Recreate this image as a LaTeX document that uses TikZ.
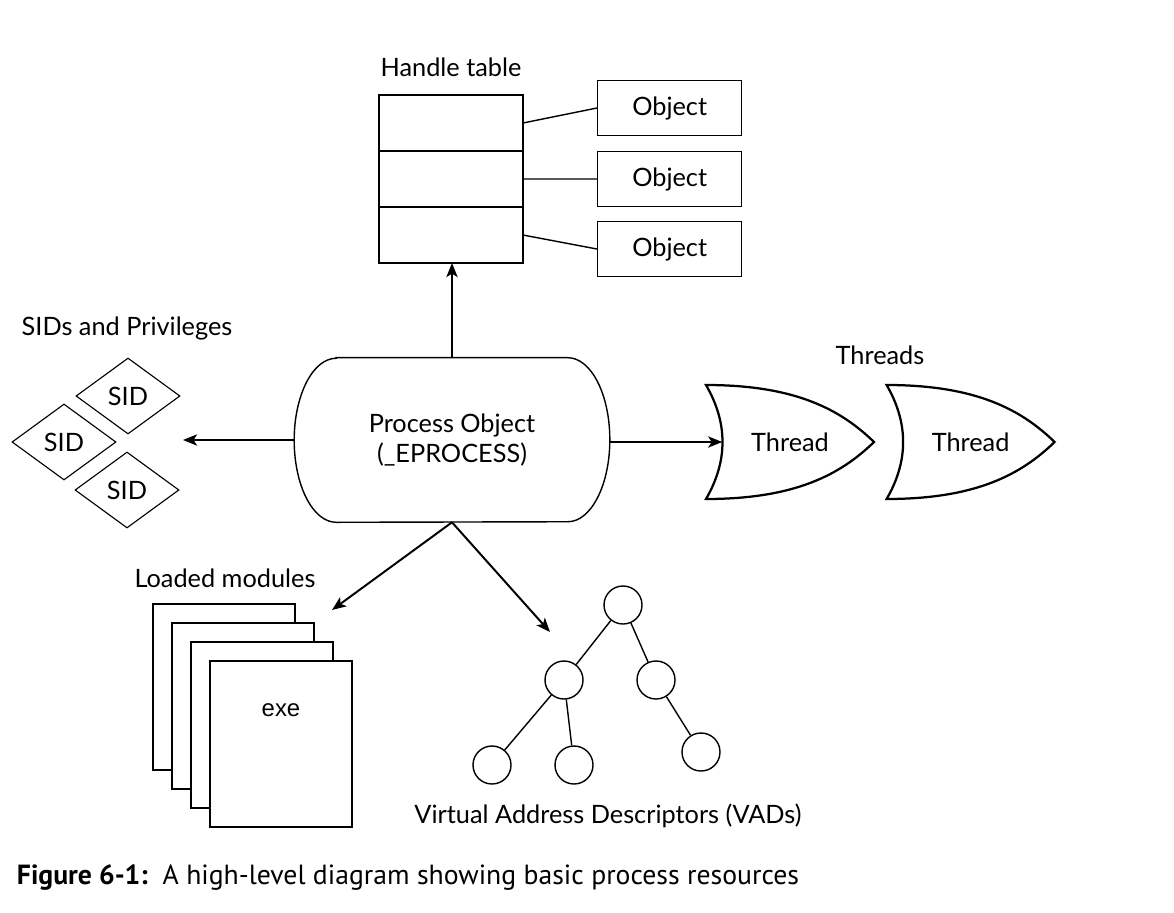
\documentclass[tikz,border=0pt]{standalone}
\usepackage{fontspec}
\setmainfont{Lato}
\newfontfamily\capfont{PT Sans}
\newfontfamily\arialfont{Liberation Sans}
\usetikzlibrary{positioning, arrows.meta, shapes.geometric}
\tikzset{
	cell/.style={
		rectangle,
		draw=black, line width=1pt,
		minimum width=3.6cm, minimum height=1.4cm,
		inner sep=0pt, outer sep=0pt,
	},
	object/.style={
		rectangle,
		draw=black, line width=0.9pt,
		minimum width=3.6cm, minimum height=1.375cm,
		inner sep=0pt,
	},
	sid/.style={
		diamond, aspect=1.4,
		draw=black, line width=0.8pt,
		minimum width=2.6cm, minimum height=1.9cm,
		inner sep=0pt,
	},
	page/.style={
		rectangle,
		draw=black, fill=white, line width=1pt,
		minimum width=3.55cm, minimum height=4.15cm,
		inner sep=0pt,
	},
	vad/.style={
		circle,
		draw=black, line width=1pt,
		minimum size=0.95cm, inner sep=0pt,
	},
	process/.style={
		rectangle, align=center,
		minimum width=7.875cm, minimum height=4.1cm,
		inner sep=0pt,
	},
	thread/.style={
		rectangle,
		minimum width=3.375cm, minimum height=2.85cm,
		inner sep=0pt,
	},
	link/.style={line width=1.4pt},
}

\begin{document}
\begin{tikzpicture}[x=0.025cm, y=-0.025cm, >={Stealth[length=10pt,width=8pt,inset=2.5pt]}, font=\fontsize{18}{22}\selectfont]
        \useasboundingbox (0,0) rectangle (1174,912);

        % handle table and objects
        \node (htlabel) at (451,67) {Handle table};
        \node[cell] (row1) at (451,123) {};
        \node[cell, below=0pt of row1] (row2) {};
        \node[cell, below=0pt of row2] (row3) {};
        \node[object, right=1.85cm of row1, yshift=0.375cm] (obj1) {Object};
        \node[object, right=1.85cm of row2] (obj2) {Object};
        \node[object, right=1.85cm of row3, yshift=-0.35cm] (obj3) {Object};
        \draw[line width=1pt] (row1.east) -- (obj1.west)
        (row2.east) -- (obj2.west)
        (row3.east) -- (obj3.west);

        % process object
        \node[process] (proc) at (452,440) {Process Object\hspace{0.3cm}\\(\_EPROCESS)\hspace{0.4cm}};
        \draw[line width=1pt] ([xshift=1.05cm]proc.north west) -- ([xshift=-1.05cm]proc.north east)
        arc[start angle=90, end angle=-90, x radius=1.05cm, y radius=2.05cm]
        -- ([xshift=1.05cm]proc.south west)
        arc[start angle=270, end angle=90, x radius=1.05cm, y radius=2.05cm] -- cycle;

        % SIDs
        \node (sidlabel) at (127,328) {SIDs and Privileges};
        \node[sid] (sid1) at (128,396) {SID};
        \node[sid] (sid2) at (64,442) {SID};
        \node[sid] (sid3) at (127,490) {SID};
        \coordinate (sidend) at (183,440);

        % threads
        \node (thrlabel) at (880,355) {Threads};
        \node[thread] (thr1) at (790,442) {Thread};
        \node[thread, right=1.125cm of thr1] (thr2) {Thread};
        \foreach \t in {thr1,thr2}
            \draw[line width=1.6pt, shift={(\t.center)}] (-84,-57) .. controls (6,-57) and (51,-32) .. (84,0)
            .. controls (51,32) and (6,57) .. (-84,57)
            .. controls (-62,19) and (-62,-19) .. cycle;

        % loaded modules
        \node (modlabel) at (225,578) {Loaded modules};
        \foreach \i in {0,...,3}
            \node[page] (page\i) at ({224+19*\i},{687+19*\i}) {};
        \node[font=\arialfont\fontsize{17}{20}\selectfont] (exe) at ([yshift=-1.25cm]page3.north) {exe};
        \coordinate (modend) at (332,610);

        % VAD tree
        \node[vad] (v0) at (623,605) {};
        \node[vad] (v1) at (564,680) {};
        \node[vad] (v2) at (656,680) {};
        \node[vad] (v3) at (492,765) {};
        \node[vad] (v4) at (574,765) {};
        \node[vad] (v5) at (701,752) {};
        \draw[line width=1pt] (v0) -- (v1) (v0) -- (v2)
        (v1) -- (v3) (v1) -- (v4) (v2) -- (v5);
        \node (vadlabel) at (608,816) {Virtual Address Descriptors (VADs)};
        \coordinate (vadend) at (550,632);

        % arrows out of the process
        \path[link, ->] (proc.north) edge (proc.north |- row3.south)
        (proc.west) edge (sidend)
        (proc.east |- thr1.west) edge (thr1.west)
        (proc.south) edge (modend)
        (proc.south) edge (vadend);

        \node[anchor=base west, font=\capfont\fontsize{19.7}{24}\selectfont] (caption) at (12,884)
        {\textbf{Figure 6-1:}\ \ A high-level diagram showing basic process resources};
    \end{tikzpicture}
\end{document}
